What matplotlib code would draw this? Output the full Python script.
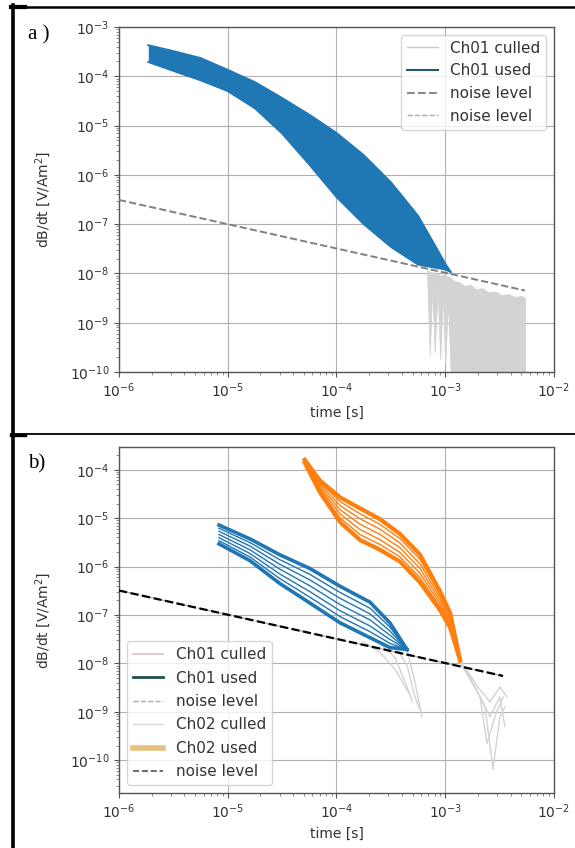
import numpy as np
import matplotlib
matplotlib.use("Agg")
import matplotlib.pyplot as plt
from matplotlib.lines import Line2D

# ---------------- panel a: channel 1, all soundings ----------------
a_time = [1.86e-6, 3.16e-6, 5.62e-6, 1.0e-5, 1.78e-5, 3.16e-5, 5.62e-5,
          1.0e-4, 1.78e-4, 3.16e-4, 5.62e-4, 1.0e-3, 1.12e-3]
# envelope of the used channel-1 data (log10 of dB/dt)
a_used_hi_log = [-3.37, -3.49, -3.63, -3.87, -4.12, -4.44, -4.78,
                 -5.15, -5.60, -6.15, -6.83, -7.80, -7.97]
a_used_lo_log = [-3.71, -3.89, -4.08, -4.30, -4.65, -5.16, -5.79,
                 -6.45, -7.00, -7.46, -7.82, -7.92, -7.97]

# culled late-time gates (below noise)
a_cull_time = [6.8e-4, 7.2e-4, 7.6e-4, 8.0e-4, 8.5e-4, 9.0e-4, 9.5e-4, 1.0e-3,
               1.06e-3, 1.12e-3, 1.2e-3, 1.35e-3, 1.5e-3, 1.7e-3, 1.9e-3, 2.2e-3,
               2.5e-3, 2.9e-3, 3.3e-3, 3.8e-3, 4.4e-3, 5.0e-3, 5.4e-3]
a_cull_hi = [1.15e-8, 1.05e-8, 1.08e-8, 1.0e-8, 9.8e-9, 9.2e-9, 9.4e-9, 8.6e-9,
             8.8e-9, 8.2e-9, 7.0e-9, 6.6e-9, 5.6e-9, 5.9e-9, 4.8e-9, 5.0e-9,
             4.1e-9, 4.3e-9, 3.6e-9, 3.8e-9, 3.3e-9, 3.5e-9, 3.2e-9]
a_cull_lo = [1.0e-8, 2.2e-10, 6.0e-9, 2.5e-10, 5.0e-9, 1.8e-10, 4.0e-9, 1.5e-10,
             3.0e-9, 1.0e-10, 1e-11, 1e-11, 1e-11, 1e-11, 1e-11, 1e-11,
             1e-11, 1e-11, 1e-11, 1e-11, 1e-11, 1e-11, 1e-11]

a_noise_time = [1.0e-6, 5.4e-3]
a_noise_val = [3.1e-7, 4.5e-9]

# ---------------- panel b: channel 1 and channel 2, one line ----------------
b_ch01_time = [8.3e-6, 1.6e-5, 3.0e-5, 5.7e-5, 1.08e-4, 2.03e-4, 3.1e-4, 4.45e-4]
b_ch01_used_log = [
    [-5.143, -5.429, -5.755, -6.041, -6.408, -6.735, -7.163, -7.714],
    [-5.209, -5.505, -5.856, -6.162, -6.536, -6.860, -7.250, -7.714],
    [-5.271, -5.577, -5.950, -6.277, -6.657, -6.977, -7.331, -7.714],
    [-5.337, -5.654, -6.051, -6.398, -6.786, -7.102, -7.418, -7.714],
    [-5.403, -5.730, -6.152, -6.519, -6.914, -7.227, -7.505, -7.714],
    [-5.465, -5.802, -6.246, -6.634, -7.035, -7.344, -7.586, -7.714],
    [-5.531, -5.878, -6.347, -6.755, -7.163, -7.469, -7.673, -7.714],
]

b_ch02_time = [5.1e-5, 7.05e-5, 1.08e-4, 1.64e-4, 2.51e-4, 3.84e-4, 5.86e-4,
               8.95e-4, 1.11e-3, 1.37e-3]
b_ch02_used_log = [
    [-3.796, -4.224, -4.571, -4.796, -5.020, -5.327, -5.755, -6.510, -6.959, -7.939],
    [-3.806, -4.266, -4.658, -4.907, -5.128, -5.424, -5.852, -6.576, -7.011, -7.939],
    [-3.816, -4.305, -4.740, -5.011, -5.229, -5.515, -5.944, -6.638, -7.060, -7.939],
    [-3.827, -4.347, -4.827, -5.123, -5.337, -5.613, -6.041, -6.704, -7.112, -7.939],
    [-3.837, -4.388, -4.913, -5.234, -5.444, -5.710, -6.138, -6.770, -7.164, -7.939],
    [-3.847, -4.427, -4.995, -5.338, -5.545, -5.801, -6.229, -6.832, -7.213, -7.939],
    [-3.857, -4.469, -5.082, -5.449, -5.653, -5.898, -6.327, -6.898, -7.265, -7.939],
]

# culled gates of channel 1 (time, log10 value)
b_ch01_cull = [
    ([4.45e-4, 5.27e-4, 6.1e-4], [-7.714, -8.388, -9.102]),
    ([3.45e-4, 4.45e-4, 5.27e-4, 5.8e-4], [-7.633, -8.041, -8.694, -8.939]),
    ([2.51e-4, 3.45e-4, 4.45e-4, 5.0e-4], [-7.592, -7.878, -8.490, -8.796]),
    ([1.75e-4, 2.51e-4, 3.45e-4, 4.75e-4], [-7.551, -7.776, -8.122, -8.653]),
]
# culled gates of channel 2
b_ch02_cull = [
    ([1.37e-3, 1.88e-3, 2.58e-3, 3.18e-3, 3.54e-3], [-7.939, -8.490, -9.102, -8.694, -9.306]),
    ([1.37e-3, 1.69e-3, 2.32e-3, 2.75e-3, 3.18e-3, 3.54e-3], [-7.939, -8.286, -8.898, -10.184, -9.102, -8.898]),
    ([1.37e-3, 2.09e-3, 2.42e-3, 2.86e-3, 3.40e-3], [-7.980, -8.694, -9.653, -9.102, -8.694]),
    ([1.52e-3, 2.0e-3, 2.58e-3, 3.18e-3, 3.70e-3], [-8.082, -8.490, -8.796, -8.490, -8.694]),
]

b_noise_time = [1.0e-6, 3.4e-3]
b_noise_val = [3.2e-7, 5.5e-9]

BLUE = "#1f77b4"
ORANGE = "#ff7f0e"
CULL = "#d3d3d3"
TXT = "#333333"

W, H = 575, 848
fig = plt.figure(figsize=(W / 100, H / 100), dpi=100)
fig.patch.set_facecolor("white")


def px_axes(x0, y0, x1, y1):
    return fig.add_axes([x0 / W, 1 - y1 / H, (x1 - x0) / W, (y1 - y0) / H])


def style(ax, ylim):
    ax.set_xscale("log")
    ax.set_yscale("log")
    ax.set_xlim(1e-6, 1e-2)
    ax.set_ylim(*ylim)
    ax.grid(True, which="major", color="#b0b0b0", lw=0.8)
    ax.set_axisbelow(True)
    for s in ax.spines.values():
        s.set_color("#555555")
        s.set_linewidth(1.0)
    ax.tick_params(colors="#555555", labelcolor=TXT, labelsize=10)
    ax.tick_params(which="minor", colors="#777777")
    ax.set_xlabel("time [s]", fontsize=10, color=TXT)
    ax.set_ylabel("dB/dt [V/Am$^2$]", fontsize=10, color=TXT)
    ax.yaxis.set_label_coords(-0.152, 0.5)


# ---- panel a ----
axa = px_axes(119, 27, 554, 372)
style(axa, (1e-10, 1e-3))
axa.fill_between(a_cull_time, a_cull_hi, a_cull_lo, color=CULL, lw=0.6, zorder=2)
hi = 10.0 ** np.array(a_used_hi_log)
lo = 10.0 ** np.array(a_used_lo_log)
axa.fill_between(a_time, hi, lo, color=BLUE, lw=0, zorder=3)
axa.plot(a_time, hi, color=BLUE, lw=1.4, zorder=3)
axa.plot(a_time, lo, color=BLUE, lw=1.4, zorder=3)
axa.plot(a_noise_time, a_noise_val, color="#808080", ls="--", lw=1.4, zorder=4)

leg_a = [
    Line2D([], [], color="#cfc6c6", lw=1.0),
    Line2D([], [], color="#245a66", lw=1.5),
    Line2D([], [], color="#8a8a8a", lw=1.5, ls="--"),
    Line2D([], [], color="#aaaaaa", lw=1.0, ls="--"),
]
axa.legend(leg_a, ["Ch01 culled", "Ch01 used", "noise level", "noise level"],
           loc="upper right", fontsize=11, labelcolor=TXT)

# ---- panel b ----
axb = px_axes(119, 447, 554, 793)
style(axb, (2.1e-11, 2.95e-4))
for t, v in b_ch01_cull:
    axb.plot(t, 10.0 ** np.array(v), color=CULL, lw=1.0, zorder=2)
for t, v in b_ch02_cull:
    axb.plot(t, 10.0 ** np.array(v), color=CULL, lw=1.0, zorder=2)
n1 = len(b_ch01_used_log)
for i, v in enumerate(b_ch01_used_log):
    edge = i in (0, n1 - 1)
    axb.plot(b_ch01_time, 10.0 ** np.array(v), color=BLUE,
             lw=2.6 if edge else 1.0, zorder=3)
n2 = len(b_ch02_used_log)
for i, v in enumerate(b_ch02_used_log):
    edge = i in (0, n2 - 1)
    axb.plot(b_ch02_time, 10.0 ** np.array(v), color=ORANGE,
             lw=3.0 if edge else 1.0, zorder=3)
axb.plot(b_noise_time, b_noise_val, color="#aaaaaa", ls="--", lw=1.0, zorder=4)
axb.plot(b_noise_time, b_noise_val, color="black", ls="--", lw=1.6, zorder=4)

leg_b = [
    Line2D([], [], color="#e0cccc", lw=1.5),
    Line2D([], [], color="#1e4f4f", lw=2.0),
    Line2D([], [], color="#aaaaaa", lw=1.0, ls="--"),
    Line2D([], [], color="#d8d8d8", lw=1.0),
    Line2D([], [], color="#e5c27a", lw=4.0),
    Line2D([], [], color="#555555", lw=1.2, ls="--"),
]
axb.legend(leg_b, ["Ch01 culled", "Ch01 used", "noise level",
                   "Ch02 culled", "Ch02 used", "noise level"],
           loc="lower left", fontsize=11, labelspacing=0.55, labelcolor=TXT)

# ---- panel frame and labels ----
def hline(y, x0, x1, lw):
    fig.add_artist(Line2D([x0 / W, x1 / W], [1 - y / H, 1 - y / H],
                          transform=fig.transFigure, color="black", lw=lw))


def vline(x, y0, y1, lw):
    fig.add_artist(Line2D([x / W, x / W], [1 - y0 / H, 1 - y1 / H],
                          transform=fig.transFigure, color="black", lw=lw))


hline(6.5, 11, W, 1.8)
hline(7, 11, 25, 3.0)
hline(434.3, 11, W, 1.3)
hline(434.5, 11, 25, 2.4)
vline(12.8, 5, H, 2.6)

serif = ["Liberation Serif", "DejaVu Serif"]
fig.text(28 / W, 1 - 39 / H, "a )", fontsize=15, family=serif, ha="left", va="baseline")
fig.text(28 / W, 1 - 468 / H, "b)", fontsize=15, family=serif, ha="left", va="baseline")

fig.savefig("out.png", dpi=100, facecolor="white")
